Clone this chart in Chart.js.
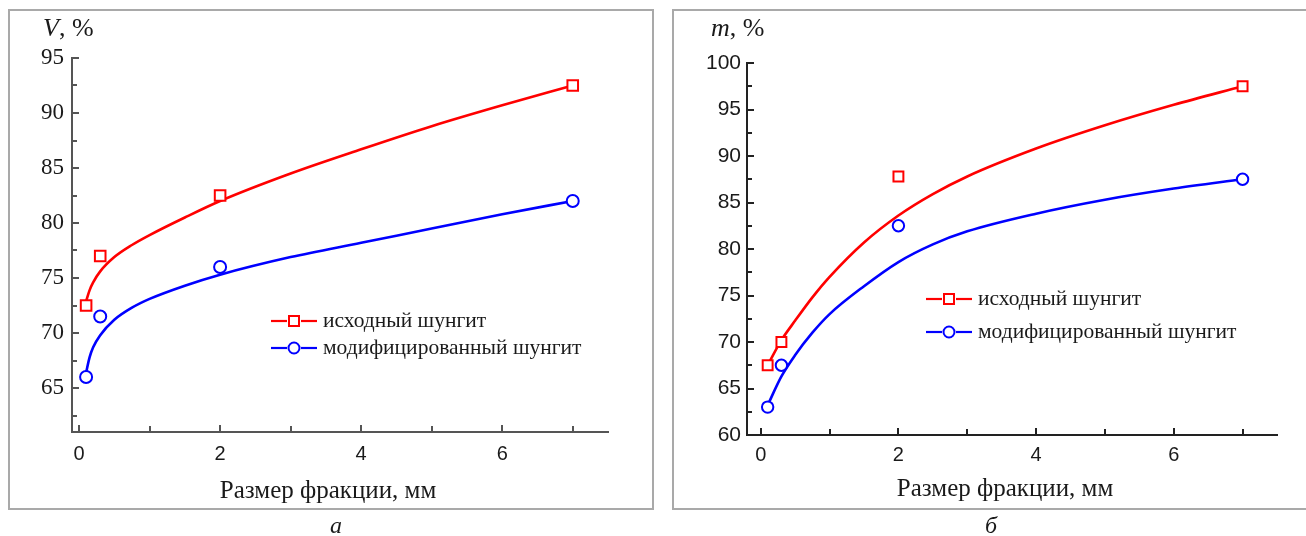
<!DOCTYPE html>
<html><head><meta charset="utf-8">
<script src="https://cdn.jsdelivr.net/npm/chart.js@4"></script>
<style>
html,body{margin:0;padding:0;background:#fff;}
body{width:1306px;height:536px;position:relative;overflow:hidden;font-family:"Liberation Serif",serif;color:#1a1a1a;}
.panel{position:absolute;border:2px solid #a9a9a9;box-sizing:border-box;}
#pa{left:8px;top:9px;width:646px;height:501px;}
#pb{left:672px;top:9px;width:660px;height:501px;}
canvas{position:absolute;}
#ca{left:10px;top:12px;}
#cb{left:675px;top:12px;}
.t{position:absolute;white-space:nowrap;line-height:1;}
.c{transform:translateX(-50%);}
.leg{position:absolute;display:flex;align-items:center;white-space:nowrap;font-size:21.5px;line-height:1;}
.leg svg{display:block;margin-right:6px;}
</style>
</head><body>
<div class="panel" id="pa"></div>
<div class="panel" id="pb"></div>
<canvas id="ca" width="640" height="495"></canvas>
<canvas id="cb" width="631" height="495"></canvas>
<div class="t" style="left:43px;top:15px;font-size:26px;"><i>V</i>, %</div>
<div class="t" style="left:711px;top:15px;font-size:26px;"><i>m</i>, %</div>
<div class="t c" id="xtA" style="left:328px;top:477px;font-size:25px;"></div>
<div class="t c" id="xtB" style="left:1005px;top:475px;font-size:25px;"></div>
<div class="t c" style="left:336px;top:513px;font-size:24px;"><i>а</i></div>
<div class="t c" style="left:991px;top:513px;font-size:24px;"><i>б</i></div>
<div id="legA"></div><div id="legB"></div>
<script>
// ---- data ----
const seriesNames = ['исходный шунгит', 'модифицированный шунгит'];
const xTitle = 'Размер фракции, мм';
const xPoints = [0.1, 0.3, 2, 7];
// panel а (V, %)
const aRedPts  = [72.5, 77, 82.5, 92.5];
const aBluePts = [66, 71.5, 76, 82];
const aFitX    = [0.1, 0.15, 0.2, 0.3, 0.5, 0.75, 1, 1.5, 2, 3, 4, 5, 6, 7];
const aFitRed  = [72.9, 73.9, 74.6, 75.6, 76.9, 78.0, 78.9, 80.5, 82.0, 84.5, 86.7, 88.8, 90.7, 92.5];
const aFitBlue = [66.4, 67.8, 68.7, 69.8, 71.2, 72.3, 73.1, 74.3, 75.3, 76.9, 78.2, 79.5, 80.8, 82.0];
// panel б (m, %)
const bRedPts  = [67.5, 70, 87.8, 97.5];
const bBluePts = [63, 67.5, 82.5, 87.5];
const bFitX    = [0.1, 0.3, 0.5, 0.75, 1, 1.5, 2, 2.5, 3, 4, 5, 6, 7];
const bFitRed  = [67.5, 70.2, 72.3, 74.8, 77.0, 80.7, 83.6, 85.9, 87.8, 90.8, 93.3, 95.5, 97.5];
const bFitBlue = [63.2, 66.3, 68.6, 71.0, 73.0, 76.0, 78.6, 80.5, 81.9, 83.8, 85.3, 86.5, 87.5];
// ticks
const xTicks  = [0, 2, 4, 6];
const xMinor  = [1, 3, 5, 7];
const aYTicks = [65, 70, 75, 80, 85, 90, 95];
const aYMinor = [62.5, 67.5, 72.5, 77.5, 82.5, 87.5, 92.5];
const bYTicks = [60, 65, 70, 75, 80, 85, 90, 95, 100];
const bYMinor = [62.5, 67.5, 72.5, 77.5, 82.5, 87.5, 92.5, 97.5];

document.getElementById('xtA').textContent = xTitle;
document.getElementById('xtB').textContent = xTitle;

const RED = '#ff0000', BLUE = '#0000ff';
const pts = (xs, ys) => xs.map((x, i) => ({x, y: ys[i]}));

const inwardTicks = {
  id: 'inwardTicks',
  afterDraw(chart, args, o) {
    const {ctx, chartArea: a, scales: {x, y}} = chart;
    ctx.save();
    ctx.strokeStyle = o.color; ctx.lineWidth = 2;
    const seg = (x1, y1, x2, y2) => { ctx.beginPath(); ctx.moveTo(x1, y1); ctx.lineTo(x2, y2); ctx.stroke(); };
    o.xMajor.forEach(v => { const p = Math.round(x.getPixelForValue(v)); seg(p, a.bottom, p, a.bottom - 7); });
    o.xMinor.forEach(v => { const p = Math.round(x.getPixelForValue(v)); seg(p, a.bottom, p, a.bottom - 6); });
    o.yMajor.forEach(v => { const p = Math.round(y.getPixelForValue(v)); seg(a.left, p, a.left + 7, p); });
    o.yMinor.forEach(v => { const p = Math.round(y.getPixelForValue(v)); seg(a.left, p, a.left + 5, p); });
    ctx.restore();
  }
};

function makeChart(id, c) {
  return new Chart(document.getElementById(id), {
    type: 'scatter',
    data: { datasets: [
      { data: pts(xPoints, c.redPts), showLine: false, pointStyle: 'rect', pointRadius: c.rectR, pointBorderWidth: 2,
        borderColor: RED, backgroundColor: '#fff', pointBackgroundColor: '#fff', pointBorderColor: RED },
      { data: pts(xPoints, c.bluePts), showLine: false, pointStyle: 'circle', pointRadius: c.circR, pointBorderWidth: 2,
        borderColor: BLUE, backgroundColor: '#fff', pointBackgroundColor: '#fff', pointBorderColor: BLUE },
      { data: pts(c.fitX, c.fitRed), showLine: true, pointRadius: 0, borderColor: RED, borderWidth: 2.6,
        cubicInterpolationMode: 'monotone' },
      { data: pts(c.fitX, c.fitBlue), showLine: true, pointRadius: 0, borderColor: BLUE, borderWidth: 2.6,
        cubicInterpolationMode: 'monotone' }
    ]},
    options: {
      responsive: false, animation: false, devicePixelRatio: 1,
      layout: { padding: c.pad },
      plugins: { legend: { display: false }, tooltip: { enabled: false },
        inwardTicks: { color: c.axisColor, xMajor: xTicks, xMinor: xMinor, yMajor: c.yTicks, yMinor: c.yMinor } },
      scales: {
        x: { type: 'linear', min: c.xMin, max: 7.5,
          afterBuildTicks: s => { s.ticks = xTicks.map(v => ({value: v})); },
          afterFit: s => { s.height = c.xH; },
          grid: { display: false, drawTicks: false },
          border: { display: true, color: c.axisColor, width: 2 },
          ticks: { padding: c.xPad, color: '#1a1a1a', font: { family: 'Liberation Sans', size: c.xFont } } },
        y: { type: 'linear', min: c.yMin, max: c.yMax,
          afterBuildTicks: s => { s.ticks = c.yTicks.map(v => ({value: v})); },
          afterFit: s => { s.width = c.yW; },
          grid: { display: false, drawTicks: false },
          border: { display: true, color: c.axisColor, width: 2 },
          ticks: { padding: c.yPad, color: '#1a1a1a', font: { family: c.yFamily, size: c.yFont } } }
      }
    },
    plugins: [inwardTicks]
  });
}

makeChart('ca', { redPts: aRedPts, bluePts: aBluePts, fitX: aFitX, fitRed: aFitRed, fitBlue: aFitBlue,
  yTicks: aYTicks, yMinor: aYMinor, yMin: 61, yMax: 95, xMin: -0.1,
  pad: { left: 0, top: 46, right: 42, bottom: 0 }, xH: 75, yW: 62, xPad: 10, yPad: 8,
  xFont: 20, yFont: 23, yFamily: 'Liberation Serif', axisColor: '#555', rectR: 7.5, circR: 6 });

makeChart('cb', { redPts: bRedPts, bluePts: bBluePts, fitX: bFitX, fitRed: bFitRed, fitBlue: bFitBlue,
  yTicks: bYTicks, yMinor: bYMinor, yMin: 60, yMax: 100, xMin: -0.2,
  pad: { left: 0, top: 51, right: 29, bottom: 0 }, xH: 72, yW: 72, xPad: 8, yPad: 6,
  xFont: 20, yFont: 21, yFamily: 'Liberation Sans', axisColor: '#222', rectR: 7, circR: 5.7 });

// legends (HTML, built from series names)
function legend(id, left, tops) {
  const el = document.getElementById(id);
  const cols = [RED, BLUE];
  seriesNames.forEach((name, i) => {
    const d = document.createElement('div');
    d.className = 'leg';
    d.style.left = left + 'px';
    d.style.top = (tops[i] - 12) + 'px';
    const mk = i === 0
      ? '<rect x="18" y="7" width="10" height="10" fill="#fff" stroke="' + cols[i] + '" stroke-width="2"/>'
      : '<circle cx="23" cy="12" r="5.5" fill="#fff" stroke="' + cols[i] + '" stroke-width="2"/>';
    d.innerHTML = '<svg width="46" height="24"><line x1="0" y1="12" x2="16" y2="12" stroke="' + cols[i] +
      '" stroke-width="2.2"/><line x1="30" y1="12" x2="46" y2="12" stroke="' + cols[i] + '" stroke-width="2.2"/>' + mk +
      '</svg><span>' + name + '</span>';
    el.appendChild(d);
  });
}
legend('legA', 271, [321, 348]);
legend('legB', 926, [299, 332]);
</script>
</body></html>
